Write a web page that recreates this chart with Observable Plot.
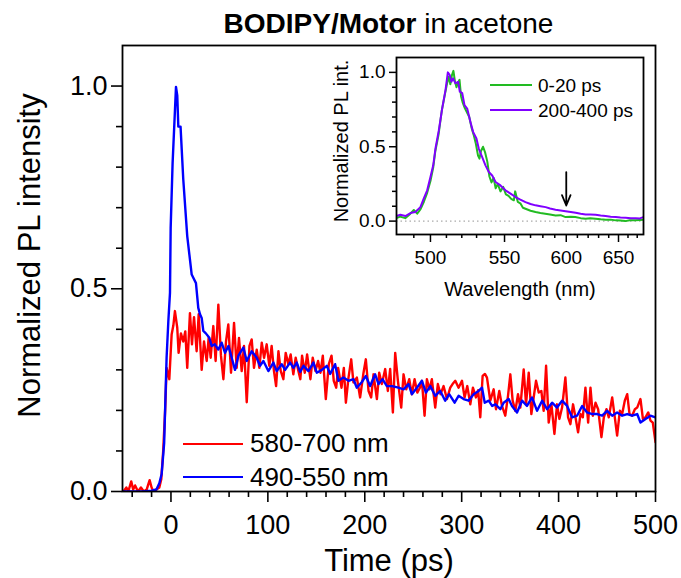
<!DOCTYPE html>
<html><head><meta charset="utf-8">
<script src="https://cdn.jsdelivr.net/npm/d3@7"></script>
<script src="https://cdn.jsdelivr.net/npm/@observablehq/plot@0.6"></script>
<style>
body{margin:0;background:#fff;font-family:'Liberation Sans',Arial,sans-serif;}
#wrap{position:relative;width:681px;height:578px;overflow:hidden;background:#fff}
#wrap svg{position:absolute}
.abs{position:absolute;white-space:nowrap;color:#000}
.ln{position:absolute;height:0}
</style></head><body><div id="wrap"></div>
<script>
// ---------- main panel data: [time (ps), normalized PL] ----------
const red580_700 = [[-49,0.0],[-46,0.01],[-44,0.0],[-41,0.025],[-39,0.005],[-37,0.015],[-34,0.0],[-31,0.01],[-28,0.0],[-25,0.005],[-22,0.028],[-20,0.01],[-18,0.0],[-15,0.005],[-12,0.01],[-10,0.03],[-8,0.1],[-6,0.2],[-4.5,0.305],[-3,0.29],[-1.7,0.277],[0.7,0.387],[2.5,0.41],[4.1,0.445],[6.5,0.404],[7.9,0.342],[10.3,0.39],[12.7,0.37],[14.8,0.395],[16.8,0.305],[19.6,0.44],[21.7,0.363],[23.8,0.43],[26.5,0.346],[28.6,0.437],[31.7,0.3],[34.1,0.37],[36.9,0.322],[38.9,0.379],[41,0.33],[43.7,0.408],[46.1,0.322],[48.9,0.461],[51.6,0.335],[54.1,0.277],[56.8,0.37],[59.2,0.412],[62,0.293],[65.1,0.416],[67.8,0.305],[70.2,0.379],[73,0.297],[75.4,0.359],[78.2,0.22],[81,0.359],[83.3,0.375],[85.7,0.305],[88.5,0.35],[91.2,0.305],[93.7,0.367],[96.1,0.33],[98.8,0.363],[101.5,0.31],[103.9,0.359],[106.3,0.297],[108.5,0.26],[110.9,0.346],[113.3,0.297],[116,0.277],[118.4,0.342],[121.1,0.314],[123.5,0.338],[126.3,0.289],[128.7,0.33],[131.5,0.297],[133.5,0.277],[135.3,0.335],[138.1,0.293],[140.5,0.338],[143.9,0.277],[146.3,0.33],[149.1,0.297],[151.8,0.322],[154.3,0.293],[156.7,0.335],[159.8,0.228],[162.9,0.314],[165.7,0.335],[168,0.273],[170.5,0.256],[172.5,0.305],[176,0.256],[178.4,0.305],[180.5,0.219],[183.2,0.281],[186,0.326],[188.3,0.269],[191.8,0.281],[195.2,0.232],[198.7,0.293],[201.1,0.326],[203.9,0.248],[206.6,0.232],[209,0.289],[212.5,0.228],[214.9,0.293],[217.6,0.265],[221.1,0.302],[223.8,0.248],[226.2,0.302],[229,0.195],[231.4,0.342],[234.2,0.273],[237.6,0.207],[240,0.289],[242.8,0.252],[245.9,0.277],[248.6,0.24],[251.4,0.277],[254.2,0.244],[256.9,0.256],[259,0.273],[261.7,0.187],[264.1,0.277],[266.8,0.252],[269.2,0.277],[272.7,0.207],[275.4,0.265],[278.2,0.24],[281.3,0.26],[284.8,0.228],[288.2,0.256],[290.6,0.265],[293.4,0.273],[296.8,0.256],[300.3,0.273],[303,0.232],[305.8,0.26],[308.9,0.215],[311.6,0.256],[314.7,0.232],[317,0.25],[319.2,0.183],[321.6,0.285],[324,0.29],[326.1,0.281],[329.5,0.224],[333,0.252],[335.4,0.203],[338.8,0.248],[341.6,0.211],[345,0.187],[347.8,0.236],[350.2,0.289],[352.6,0.224],[355.4,0.199],[358.1,0.24],[360.5,0.207],[364,0.301],[366.4,0.215],[369.2,0.293],[371.9,0.191],[374.3,0.232],[376.7,0.273],[379.5,0.244],[382.2,0.248],[384.6,0.199],[387.1,0.31],[389.8,0.17],[392.6,0.215],[395.7,0.142],[398.4,0.215],[400.8,0.179],[403.6,0.207],[407,0.281],[409.8,0.183],[412.2,0.166],[414.9,0.215],[417.4,0.183],[420.1,0.146],[422.6,0.191],[425,0.183],[427.7,0.256],[430.5,0.17],[432.9,0.256],[435.3,0.187],[438.1,0.219],[440.8,0.203],[444.2,0.134],[446.7,0.183],[449.4,0.203],[451.8,0.183],[455.3,0.232],[458,0.183],[460.4,0.138],[463.2,0.199],[465.6,0.191],[468.3,0.224],[470.8,0.24],[473.2,0.191],[475.9,0.187],[478.7,0.203],[481.1,0.207],[484.5,0.228],[487,0.179],[489.7,0.183],[492.5,0.195],[494.8,0.175],[497.2,0.17],[500,0.122]];

const blue490_550 = [[-50,0],[-40,0],[-30,0],[-20,0.002],[-15,0.005],[-12,0.02],[-9.6,0.043],[-7,0.12],[-4.5,0.33],[-2.7,0.42],[-1,0.49],[-0.3,0.65],[1.7,0.81],[5.2,0.998],[6.5,0.977],[7.6,0.9],[9.9,0.9],[12.7,0.77],[16.8,0.63],[21.4,0.535],[25.8,0.514],[28.2,0.453],[30,0.437],[31.7,0.428],[33.4,0.396],[36,0.39],[39.6,0.379],[42,0.359],[45.3,0.363],[48.9,0.35],[52.3,0.367],[55.8,0.342],[59.3,0.359],[62.7,0.33],[66.1,0.3],[69.6,0.335],[74.7,0.355],[78.2,0.322],[83.3,0.346],[88.5,0.33],[91.9,0.31],[95.4,0.322],[100.5,0.297],[105.7,0.318],[109.1,0.297],[114.3,0.314],[117.8,0.3],[122.9,0.318],[126.4,0.305],[129.8,0.318],[133.3,0.295],[136.8,0.31],[141.9,0.297],[147,0.318],[150.5,0.293],[155.7,0.3],[160.8,0.31],[164.3,0.29],[169.4,0.314],[172.8,0.273],[178,0.281],[183.2,0.273],[188.3,0.277],[191.8,0.256],[197,0.27],[201.1,0.285],[205.5,0.26],[210.7,0.289],[214.2,0.265],[218.3,0.277],[222.8,0.26],[228,0.26],[234.8,0.256],[240,0.252],[245.2,0.265],[248.6,0.24],[253.8,0.256],[259,0.273],[263.1,0.244],[267.6,0.26],[272.7,0.236],[277.9,0.248],[283,0.224],[287.1,0.24],[292.7,0.219],[296.8,0.236],[302,0.228],[307.1,0.224],[312.3,0.24],[317.5,0.248],[321,0.256],[323.8,0.219],[327.9,0.224],[331.4,0.211],[334.8,0.215],[339.9,0.203],[343.3,0.219],[348.5,0.228],[351.9,0.211],[357.1,0.195],[362.3,0.224],[367.4,0.211],[372.6,0.232],[377.8,0.199],[383,0.224],[388.1,0.203],[393.3,0.219],[398.4,0.207],[403.6,0.224],[408.8,0.211],[413.9,0.183],[419.1,0.187],[424.3,0.211],[429.4,0.195],[434.6,0.191],[439.8,0.191],[444.9,0.187],[450.1,0.199],[455.3,0.187],[460.4,0.195],[465.6,0.187],[470.8,0.191],[475.9,0.187],[481.1,0.191],[484.5,0.17],[489.7,0.179],[494.8,0.187],[500,0.183]];

// ---------- inset data: [wavelength (nm), normalized PL] ----------
const green0_20 = [[480,0.02],[482,0.03],[485,0.02],[488,0.05],[490,0.075],[492,0.05],[494,0.08],[496,0.13],[498,0.19],[500,0.27],[501.7,0.36],[503,0.47],[505,0.58],[507,0.74],[509,0.85],[510.5,0.93],[511.5,0.97],[512.5,0.92],[513.5,0.98],[514.5,1.01],[515.5,0.94],[516.5,0.9],[517.5,0.93],[518.5,0.95],[519.5,0.84],[520.5,0.8],[522,0.76],[523.5,0.73],[525,0.7],[526.5,0.63],[528,0.58],[529.5,0.52],[531,0.44],[532,0.42],[533,0.47],[534.5,0.5],[536,0.46],[537.5,0.4],[539,0.3],[540.5,0.26],[542,0.29],[543.5,0.22],[545,0.25],[547,0.2],[549,0.23],[551,0.18],[553,0.17],[555,0.15],[557,0.14],[558,0.2],[560,0.13],[562,0.12],[564,0.09],[566,0.083],[570,0.07],[574,0.061],[578,0.055],[582,0.05],[586,0.045],[590.7,0.038],[595,0.04],[599.4,0.027],[604,0.03],[608,0.027],[613,0.02],[617.6,0.016],[622,0.02],[627,0.016],[632,0.012],[637,0.009],[642,0.01],[647,0.005],[652,0.004],[657,0.0],[662,0.006],[668,0.005],[673,0.008],[677,0.009]];

const purple200_400 = [[480,0.034],[482.2,0.043],[485.1,0.034],[488,0.054],[490.9,0.061],[493.9,0.094],[495.9,0.151],[498,0.207],[500,0.297],[501.7,0.375],[503.1,0.488],[505.2,0.611],[507.3,0.757],[509.4,0.881],[510.9,1.0],[512.1,0.982],[513.2,0.937],[514.3,0.96],[515.8,0.926],[517.6,0.937],[518.7,0.87],[520.3,0.86],[521.8,0.78],[523.6,0.757],[525.8,0.667],[527.6,0.6],[529.9,0.555],[531.5,0.488],[533.9,0.431],[536.2,0.375],[538.6,0.33],[541,0.307],[543.4,0.263],[547,0.24],[550.7,0.207],[554.5,0.185],[558.3,0.162],[562,0.145],[566,0.128],[570,0.115],[574,0.106],[578,0.1],[582.3,0.094],[586,0.085],[590.7,0.077],[595,0.072],[599.4,0.067],[604,0.062],[608.4,0.056],[613,0.05],[617.6,0.045],[622,0.045],[627.1,0.043],[632,0.038],[636.9,0.034],[642,0.03],[647.1,0.027],[652,0.024],[657.5,0.022],[663,0.02],[668.3,0.02],[673,0.018],[677,0.027]];

const arrowMark = [{w: 600, from: 0.33, to: 0.105}];
const zeroLine = [0];

// ---------- ticks ----------
const mainXMajor = [0, 100, 200, 300, 400, 500];
const mainXMinor = [-40, -20, 20, 40, 60, 80, 120, 140, 160, 180, 220, 240, 260, 280, 320, 340, 360, 380, 420, 440, 460, 480];
const mainYMajor = [0, 0.5, 1.0];
const mainYMinor = [0.1, 0.2, 0.3, 0.4, 0.6, 0.7, 0.8, 0.9];
const insetXMajor = [500, 550, 600, 650];
const insetXMinor = [490, 510, 520, 530, 540, 560, 570, 580, 590, 610, 620, 630, 640, 660, 670];
const insetYMajor = [0, 0.5, 1.0];
const insetYMinor = [0.1, 0.2, 0.3, 0.4, 0.6, 0.7, 0.8, 0.9];

const FONT = "'Liberation Sans', Arial, sans-serif";
const toRows = (arr, k) => arr.map(([a, b]) => ({[k]: a, v: b}));
const redData = toRows(red580_700, "t");
const blueData = toRows(blue490_550, "t");
const greenData = toRows(green0_20, "w");
const purpleData = toRows(purple200_400, "w");
const f1 = d3.format(".1f");
const blank = () => "";

const main = Plot.plot({
  width: 681, height: 578,
  marginLeft: 122, marginRight: 26, marginTop: 45, marginBottom: 87,
  x: {domain: [-50, 500]},
  y: {domain: [0, 1.1]},
  style: {fontFamily: FONT, color: "black", background: "transparent", overflow: "visible"},
  marks: [
    Plot.line(redData, {x: "t", y: "v", stroke: "#ff0000", strokeWidth: 2.4, clip: true}),
    Plot.line(blueData, {x: "t", y: "v", stroke: "#0000ff", strokeWidth: 2.4, clip: true}),
    Plot.axisX(mainXMajor, {anchor: "bottom", tickSize: 11, tickPadding: 12, fontSize: 27, strokeWidth: 1.6, label: null, tickFormat: d => String(d)}),
    Plot.axisX(mainXMinor, {anchor: "bottom", tickSize: 6, strokeWidth: 1.6, label: null, tickFormat: blank}),
    Plot.axisY(mainYMajor, {anchor: "left", tickSize: 11, tickPadding: 4, fontSize: 27, strokeWidth: 1.6, label: null, tickFormat: f1}),
    Plot.axisY(mainYMinor, {anchor: "left", tickSize: 6, strokeWidth: 1.6, label: null, tickFormat: blank}),
    Plot.frame({stroke: "black", strokeWidth: 1.8}),
    Plot.text(["Time (ps)"], {text: d => d, frameAnchor: "bottom", textAnchor: "middle", lineAnchor: "middle", dy: 70, fontSize: 31}),
    Plot.text(["Normalized PL intensity"], {text: d => d, frameAnchor: "left", textAnchor: "middle", lineAnchor: "middle", dx: -92, dy: -13, rotate: -90, fontSize: 31})
  ]
});
main.style.left = "0px"; main.style.top = "0px";

const inset = Plot.plot({
  width: 370, height: 270,
  marginLeft: 96, marginRight: 27, marginTop: 17, marginBottom: 76,
  x: {type: "pow", exponent: -1, domain: [480, 677]},
  y: {domain: [-0.09, 1.1]},
  style: {fontFamily: FONT, color: "black", background: "transparent", overflow: "visible"},
  marks: [
    Plot.ruleY(zeroLine, {y: d => d, stroke: "#aaaaaa", strokeWidth: 1.2, strokeDasharray: "1.5,3"}),
    Plot.line(greenData, {x: "w", y: "v", stroke: "#22bb22", strokeWidth: 2, clip: true}),
    Plot.line(purpleData, {x: "w", y: "v", stroke: "#8000ff", strokeWidth: 2, clip: true}),
    Plot.arrow(arrowMark, {x1: "w", x2: "w", y1: "from", y2: "to", stroke: "black", strokeWidth: 1.8, headLength: 10, headAngle: 45}),
    Plot.axisX(insetXMajor, {anchor: "bottom", tickSize: 8, tickPadding: 8, fontSize: 19, strokeWidth: 1.5, label: null, tickFormat: d => String(d)}),
    Plot.axisX(insetXMinor, {anchor: "bottom", tickSize: 4, strokeWidth: 1.5, label: null, tickFormat: blank}),
    Plot.axisY(insetYMajor, {anchor: "left", tickSize: 7, tickPadding: 4, fontSize: 19, strokeWidth: 1.5, label: null, tickFormat: f1}),
    Plot.axisY(insetYMinor, {anchor: "left", tickSize: 4, strokeWidth: 1.5, label: null, tickFormat: blank}),
    Plot.frame({stroke: "black", strokeWidth: 1.8}),
    Plot.text(["Wavelength (nm)"], {text: d => d, frameAnchor: "bottom", textAnchor: "middle", lineAnchor: "middle", dy: 55, fontSize: 20}),
    Plot.text(["Normalized PL int."], {text: d => d, frameAnchor: "left", textAnchor: "middle", lineAnchor: "middle", dx: -55, dy: -5, rotate: -90, fontSize: 20})
  ]
});
inset.style.left = "300px"; inset.style.top = "40px";

const wrap = document.getElementById("wrap");
wrap.appendChild(main);
wrap.appendChild(inset);

function addLine(x, y, w, color, th) {
  const d = document.createElement("div");
  d.className = "ln";
  d.style.cssText = `left:${x}px;top:${y - th / 2}px;width:${w}px;border-top:${th}px solid ${color}`;
  wrap.appendChild(d);
}
function addText(html, x, y, size, extra = "") {
  const d = document.createElement("div");
  d.className = "abs";
  d.style.cssText = `left:${x}px;top:${y}px;font-size:${size}px;line-height:${size}px;${extra}`;
  d.innerHTML = html;
  wrap.appendChild(d);
}
// title
addText("<b>BODIPY/Motor</b> in acetone", 122, 10, 28, "width:533px;text-align:center");
// main legend
addLine(183, 444, 60, "#ff0000", 2.6);
addText("580-700 nm", 250, 430, 26);
addLine(183, 477, 60, "#0000ff", 2.6);
addText("490-550 nm", 250, 464, 26);
// inset legend
addLine(490, 85, 42, "#22bb22", 2.2);
addText("0-20 ps", 538, 76, 19);
addLine(490, 110, 42, "#8000ff", 2.2);
addText("200-400 ps", 538, 101, 19);
</script></body></html>
